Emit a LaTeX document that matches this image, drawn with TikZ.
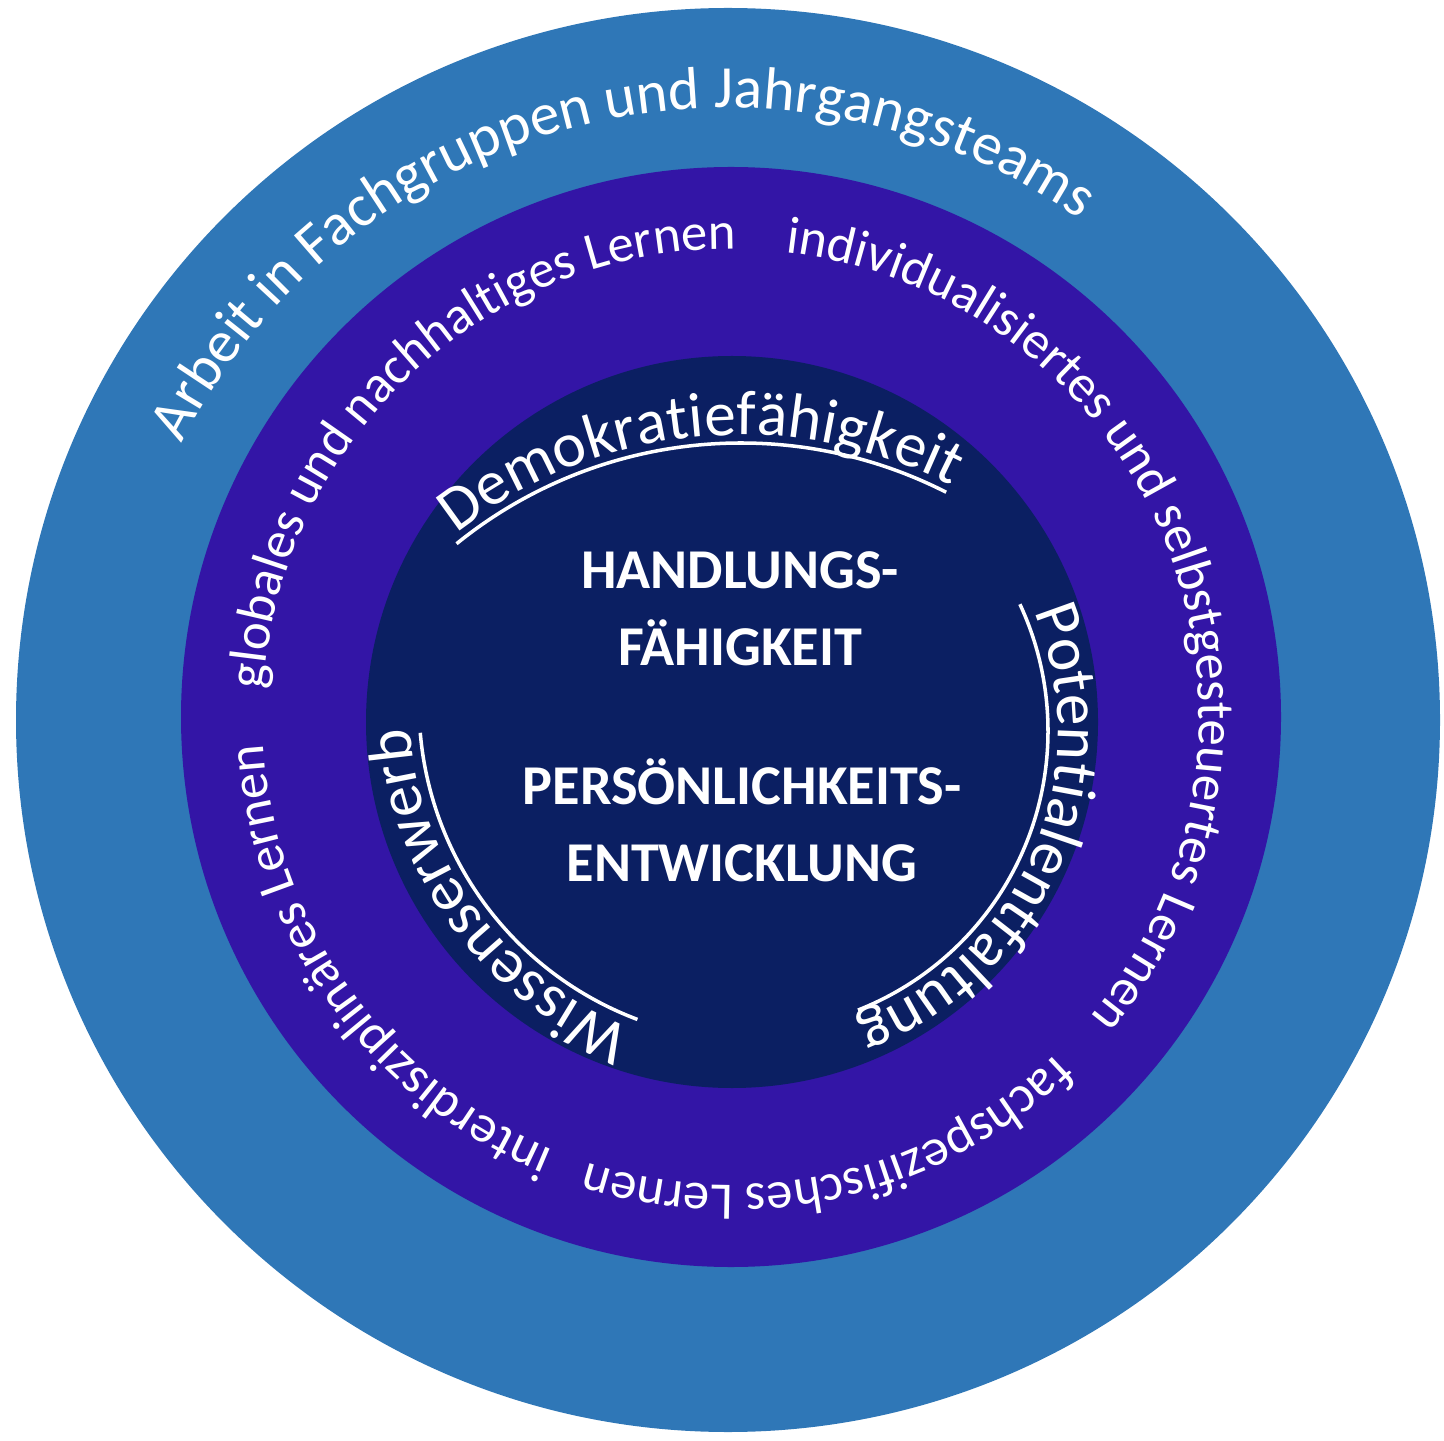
\documentclass[tikz,border=0pt]{standalone}
\usepackage{fontspec}
\setmainfont{Carlito}
\usetikzlibrary{decorations.text}
\definecolor{ringOuter}{HTML}{2F77B7}
\definecolor{ringMid}{HTML}{3315A6}
\definecolor{ringCore}{HTML}{0B1F62}
\newcommand\fOuter{\fontsize{17}{20}\selectfont\color{white}}
\newcommand\fMid{\fontsize{15}{18}\selectfont\color{white}}
\newcommand\fCore{\fontsize{18}{20}\selectfont\color{white}}

\begin{document}
\begin{tikzpicture}[
  arctext/.style={decorate,decoration={text along path,text align=center,text={#1}}},
  arcline/.style={draw=white,line width=1pt},
  coretitle/.style={text=white,align=center,font=\fontsize{16}{22}\selectfont\bfseries}]
  \useasboundingbox (0,0) rectangle (14.4400,14.4000);
  \filldraw[fill=ringOuter,draw=none] (7.2800,7.2000) circle (7.1200);
  \filldraw[fill=ringMid,draw=none] (7.3100,7.2300) circle (5.5000);
  \filldraw[fill=ringCore,draw=none] (7.3200,7.1800) circle (3.6600);
  \path[arctext={|\fOuter|Arbeit in Fachgruppen und Jahrgangsteams}] (7.2800,7.2000) ++(169:6.1200) arc[start angle=169,end angle=39,radius=6.1200];
  \path[arctext={|\fMid|globales und nachhaltiges Lernen}] (7.3100,7.2300) ++(193:4.6800) arc[start angle=193,end angle=73,radius=4.6800];
  \path[arctext={|\fMid|individualisiertes und selbstgesteuertes Lernen}] (7.3100,7.2300) ++(93.7:4.6800) arc[start angle=93.7,end angle=-50.3,radius=4.6800];
  \path[arctext={|\fMid|fachspezifisches Lernen}] (7.3100,7.2300) ++(-32:4.6800) arc[start angle=-32,end angle=-122,radius=4.6800];
  \path[arctext={|\fMid|interdisziplinäres Lernen}] (7.3100,7.2300) ++(260.5:4.6800) arc[start angle=260.5,end angle=170.5,radius=4.6800];
  \path[arctext={|\fCore|Demokratiefähigkeit}] (7.4100,5.4500) ++(140.5:4.6000) arc[start angle=140.5,end angle=50.5,radius=4.6000];
  \draw[arcline] (7.4100,5.4500) ++(129:4.5200) arc[start angle=129,end angle=63,radius=4.5200];
  \path[arctext={|\fCore|Potentialentfaltung}] (7.4800,7.0900) ++(31.5:3.1000) arc[start angle=31.5,end angle=-78.5,radius=3.1000];
  \draw[arcline] (7.4800,7.0900) ++(25:3.0000) arc[start angle=25,end angle=-68.5,radius=3.0000];
  \path[arctext={|\fCore|Wissenserwerb}] (7.5600,7.3600) ++(261.5:3.4700) arc[start angle=261.5,end angle=171.5,radius=3.4700];
  \draw[arcline] (7.5600,7.3600) ++(249.4:3.3700) arc[start angle=249.4,end angle=184.9,radius=3.3700];
  \node[coretitle] (handeln) at (7.4000,8.3100) {HANDLUNGS-\\FÄHIGKEIT};
  \node[coretitle] (person) at (7.4200,6.2000) {PERSÖNLICHKEITS-\\ENTWICKLUNG};
\end{tikzpicture}
\end{document}
